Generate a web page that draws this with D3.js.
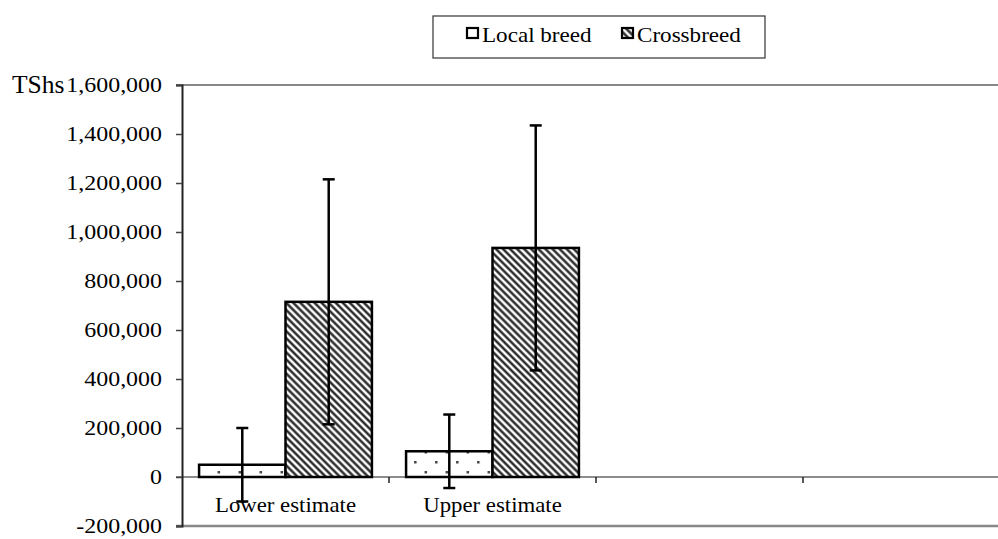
<!DOCTYPE html>
<html>
<head>
<meta charset="utf-8">
<script src="https://cdn.jsdelivr.net/npm/d3@7"></script>
<style>
  body { margin: 0; background: #fff; }
  svg text { font-family: "Liberation Serif", "Times New Roman", serif; fill: #000; }
</style>
</head>
<body>
<svg id="chart" width="998" height="539"></svg>
<script>
// data
const categories = ["Lower estimate", "Upper estimate", "c3", "c4"];
const categoryLabels = ["Lower estimate", "Upper estimate", "", ""];
const seriesNames = ["Local breed", "Crossbreed"];
const localBreed = [50000, 105000];
const crossbreed = [715000, 935000];
const localErr = [150000, 150000];
const crossErr = [500000, 500000];
const yTicks = [-200000, 0, 200000, 400000, 600000, 800000, 1000000, 1200000, 1400000, 1600000];

const svg = d3.select("#chart");
const width = 998, height = 539;
const plotLeft = 182, plotRight = 1010, plotTop = 85, plotBottom = 526;

const defs = svg.append("defs");

// dotted fill for local breed
const dots = defs.append("pattern")
    .attr("id", "dots")
    .attr("patternUnits", "userSpaceOnUse")
    .attr("width", 21).attr("height", 20)
    .attr("x", 8).attr("y", 1);
dots.append("rect").attr("width", 21).attr("height", 20).attr("fill", "#fff");
dots.append("rect").attr("x", 0).attr("y", 0).attr("width", 2.5).attr("height", 2.5).attr("fill", "#444");
dots.append("rect").attr("x", 10.5).attr("y", 10).attr("width", 2.5).attr("height", 2.5).attr("fill", "#444");

// diagonal hatch for crossbreed, lines running down to the right
const hatch = defs.append("pattern")
    .attr("id", "hatch")
    .attr("patternUnits", "userSpaceOnUse")
    .attr("width", 5).attr("height", 5)
    .attr("patternTransform", "rotate(45)");
hatch.append("rect").attr("width", 5).attr("height", 5).attr("fill", "#fff");
hatch.append("line")
    .attr("x1", 0).attr("y1", 2.5).attr("x2", 5).attr("y2", 2.5)
    .attr("stroke", "#1a1a1a").attr("stroke-width", 2.3);

const x = d3.scaleBand().domain(categories).range([plotLeft, plotRight]).paddingInner(0.165).paddingOuter(0.0825);
const xOuter = d3.scaleBand().domain(categories).range([plotLeft, plotRight]);
const sub = d3.scaleBand().domain(seriesNames).range([0, x.bandwidth()]);
const y = d3.scaleLinear().domain([-200000, 1600000]).range([plotBottom, plotTop]);

// plot frame
svg.append("line").attr("x1", plotLeft - 6).attr("x2", width).attr("y1", plotTop).attr("y2", plotTop)
    .attr("stroke", "#888").attr("stroke-width", 2);
svg.append("line").attr("x1", plotLeft - 6).attr("x2", width).attr("y1", plotBottom).attr("y2", plotBottom)
    .attr("stroke", "#888").attr("stroke-width", 2.5);

// zero line with category ticks
svg.append("line").attr("x1", plotLeft - 6).attr("x2", width).attr("y1", y(0)).attr("y2", y(0))
    .attr("stroke", "#666").attr("stroke-width", 1.5);
svg.selectAll(".xtick")
    .data(categories.slice(1))
    .enter().append("line")
    .attr("x1", d => xOuter(d)).attr("x2", d => xOuter(d))
    .attr("y1", y(0)).attr("y2", y(0) + 6)
    .attr("stroke", "#222").attr("stroke-width", 1.5);

// y axis
const yAxis = svg.append("g").attr("transform", `translate(${plotLeft},0)`)
    .call(d3.axisLeft(y).tickValues(yTicks).tickSize(6).tickPadding(20)
        .tickFormat(d => d3.format(",")(d).replace("−", "-")));
yAxis.select(".domain").attr("stroke", "#222").attr("stroke-width", 2);
yAxis.selectAll(".tick line").attr("stroke", "#444").attr("stroke-width", 1.5);
// the source font is a little wider than Liberation Serif, so stretch it sideways
yAxis.selectAll(".tick text")
    .attr("font-size", 21).attr("fill", "#000")
    .attr("x", 0)
    .attr("transform", "translate(-20,0) scale(1.14,1)");

svg.append("text").attr("x", 12).attr("y", 93).attr("font-size", 25.5).text("TShs");

// bars
const rows = categories.slice(0, 2).map((c, i) => ({
    cat: c,
    vals: [
        { name: seriesNames[0], v: localBreed[i], e: localErr[i], fill: "url(#dots)" },
        { name: seriesNames[1], v: crossbreed[i], e: crossErr[i], fill: "url(#hatch)" }
    ]
}));

const groups = svg.selectAll(".grp").data(rows).enter().append("g")
    .attr("transform", d => `translate(${x(d.cat)},0)`);

groups.selectAll("rect").data(d => d.vals).enter().append("rect")
    .attr("x", d => sub(d.name))
    .attr("width", sub.bandwidth())
    .attr("y", d => y(Math.max(0, d.v)))
    .attr("height", d => Math.abs(y(d.v) - y(0)))
    .attr("fill", d => d.fill)
    .attr("stroke", "#000").attr("stroke-width", 2.5);

// error bars
const eb = groups.selectAll(".err").data(d => d.vals).enter().append("g");
eb.append("line")
    .attr("x1", d => sub(d.name) + sub.bandwidth() / 2)
    .attr("x2", d => sub(d.name) + sub.bandwidth() / 2)
    .attr("y1", d => y(d.v + d.e)).attr("y2", d => y(d.v - d.e))
    .attr("stroke", "#000").attr("stroke-width", 2.5);
eb.selectAll(".cap").data(d => [d.v + d.e, d.v - d.e].map(t => ({ t, d }))).enter().append("line")
    .attr("x1", c => sub(c.d.name) + sub.bandwidth() / 2 - 6)
    .attr("x2", c => sub(c.d.name) + sub.bandwidth() / 2 + 6)
    .attr("y1", c => y(c.t)).attr("y2", c => y(c.t))
    .attr("stroke", "#000").attr("stroke-width", 2.5);

// category labels
svg.selectAll(".xlab").data(categories).enter().append("text")
    .attr("transform", d => `translate(${x(d) + x.bandwidth() / 2},512) scale(1.085,1)`)
    .attr("text-anchor", "middle")
    .attr("font-size", 21)
    .text((d, i) => categoryLabels[i]);

// legend
const legend = svg.append("g");
legend.append("rect").attr("x", 433).attr("y", 16).attr("width", 332).attr("height", 42)
    .attr("fill", "#fff").attr("stroke", "#333").attr("stroke-width", 1.2);
const legX = [467, 622];
const legItems = legend.selectAll(".li").data(seriesNames).enter().append("g")
    .attr("transform", (d, i) => `translate(${legX[i]},28)`);
legItems.append("rect").attr("width", 11).attr("height", 10)
    .attr("fill", (d, i) => i === 0 ? "#fff" : "url(#hatch)")
    .attr("stroke", "#000").attr("stroke-width", 2.2);
legItems.append("text").attr("transform", "translate(15,14) scale(1.1,1)")
    .attr("font-size", 21).text(d => d);
</script>
</body>
</html>
